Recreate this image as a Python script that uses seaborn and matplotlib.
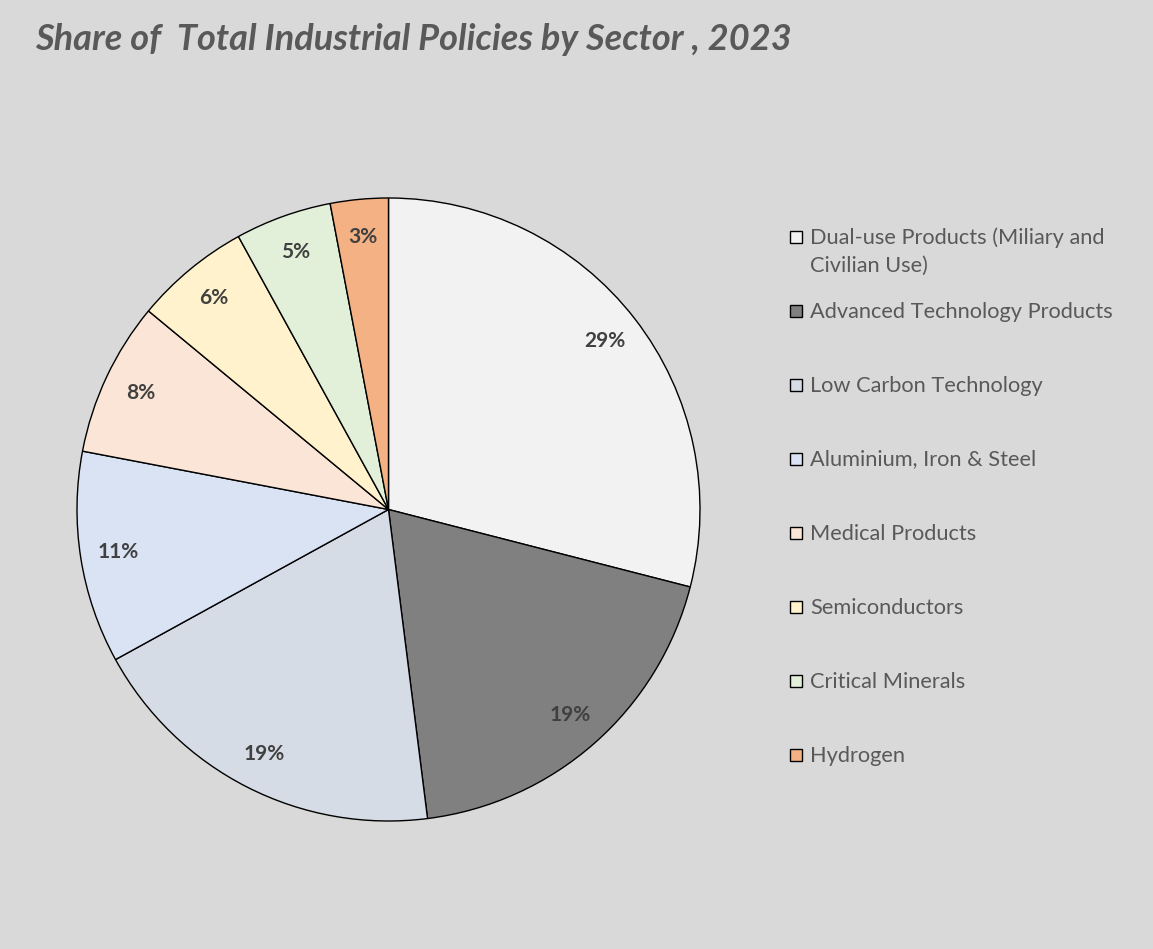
import matplotlib
matplotlib.use("Agg")
import matplotlib.pyplot as plt
from matplotlib.patches import Rectangle
import seaborn as sns

# Sector shares of total industrial policies, 2023 (percent)
sectors = [
    "Dual-use Products (Miliary and\nCivilian Use)",
    "Advanced Technology Products",
    "Low Carbon Technology",
    "Aluminium, Iron & Steel",
    "Medical Products",
    "Semiconductors",
    "Critical Minerals",
    "Hydrogen",
]
shares = [29, 19, 19, 11, 8, 6, 5, 3]
colors = ["#F2F2F2", "#808080", "#D6DCE5", "#DAE3F3",
          "#FBE5D6", "#FFF2CC", "#E2F0D9", "#F4B183"]

sns.set_theme(style="white")
plt.rcParams["font.family"] = ["Lato", "DejaVu Sans"]

bg = "#D9D9D9"
W, H = 1153, 949
fig = plt.figure(figsize=(W / 100, H / 100), dpi=100, facecolor=bg)

# pie placed by its centre and radius in pixels
cx, cy, r = 388.5, 509.5, 311.5
ax = fig.add_axes([(cx - r) / W, (H - cy - r) / H, 2 * r / W, 2 * r / H])
ax.set_facecolor(bg)

wedges, texts, autotexts = ax.pie(
    shares,
    colors=colors,
    startangle=90,
    counterclock=False,
    radius=1.0,
    autopct=lambda p: f"{p:.0f}%",
    pctdistance=0.88,
    wedgeprops=dict(edgecolor="black", linewidth=1.0),
    textprops=dict(color="#404040", fontsize=15, fontweight="bold"),
)
ax.set_xlim(-1.0, 1.0)
ax.set_ylim(-1.0, 1.0)
ax.set_aspect("equal")
ax.axis("off")

fig.text(35 / W, 1 - 40 / H, "Share of  Total Industrial Policies by Sector , 2023",
         fontsize=26, fontweight="bold", fontstyle="italic", color="#595959",
         ha="left", va="center")

# legend: evenly spaced rows, wrapped labels hang below their first line
row0, row_step = 237, 74
box = 12
for i, (name, col) in enumerate(zip(sectors, colors)):
    yc = row0 + i * row_step
    fig.patches.append(Rectangle(
        (790 / W, (H - yc - box / 2) / H), box / W, box / H,
        transform=fig.transFigure, facecolor=col, edgecolor="black",
        linewidth=1.0))
    fig.text(810 / W, 1 - (yc - 9.5) / H, name, fontsize=15.7, color="#595959",
             ha="left", va="top", linespacing=1.5)

fig.savefig("out.png", dpi=100, facecolor=bg)
